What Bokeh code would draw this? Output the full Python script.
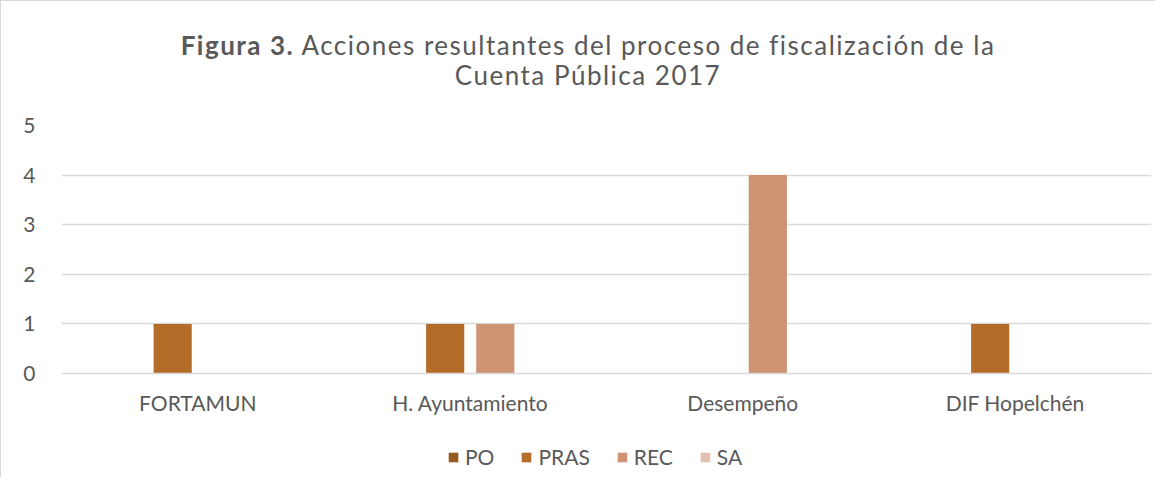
from bokeh.plotting import figure
from bokeh.models import ColumnDataSource, Legend, LegendItem, FactorRange, Range1d, Div
from bokeh.layouts import column
from bokeh.transform import dodge
from bokeh.embed import file_html
from bokeh.resources import INLINE

categories = ["FORTAMUN", "H. Ayuntamiento", "Desempeño", "DIF Hopelchén"]
series = ["PO", "PRAS", "REC", "SA"]
PO = [0, 0, 0, 0]
PRAS = [1, 1, 0, 1]
REC = [0, 1, 4, 0]
SA = [0, 0, 0, 0]
yticks = [0, 1, 2, 3, 4, 5]
colors = ["#955a1f", "#b46d29", "#cd9372", "#e2c1b2"]

FONT = "Lato"
TXT = "#595959"

src = ColumnDataSource(dict(cat=categories, PO=PO, PRAS=PRAS, REC=REC, SA=SA))

title = Div(text="<b>Figura 3.</b> Acciones resultantes del proceso de fiscalización de la<br>Cuenta Pública 2017",
            width=1154, height=100, margin=0,
            styles={"text-align": "center", "font-family": FONT, "font-size": "26px",
                    "letter-spacing": "1.5px", "color": TXT, "line-height": "30px",
                    "padding-top": "29px", "padding-left": "20px",
                    "box-sizing": "border-box", "width": "1154px"})

p = figure(width=1154, height=324, x_range=FactorRange(*categories, range_padding=0),
           y_range=Range1d(0, 5), output_backend="svg", toolbar_location=None,
           min_border_left=60, min_border_right=4, min_border_top=24, min_border_bottom=52,
           margin=0)
p.outline_line_color = None
p.background_fill_color = "white"

offsets = [-0.276, -0.092, 0.092, 0.276]
for s, c, o in zip(series, colors, offsets):
    p.vbar(x=dodge("cat", o, range=p.x_range), top=s, width=0.14, source=src,
           fill_color=c, line_color=None)

p.yaxis.ticker = yticks
p.yaxis.axis_line_color = None
p.yaxis.major_tick_line_color = None
p.yaxis.minor_tick_line_color = None
p.yaxis.major_label_standoff = 20
p.yaxis.major_label_text_font = FONT
p.yaxis.major_label_text_font_size = "21px"
p.yaxis.major_label_text_color = TXT

p.xaxis.axis_line_color = "#d9d9d9"
p.xaxis.axis_line_width = 1.5
p.xaxis.major_tick_line_color = None
p.xaxis.minor_tick_line_color = None
p.xaxis.major_label_standoff = 10
p.xaxis.major_label_text_font = FONT
p.xaxis.major_label_text_font_size = "21px"
p.xaxis.major_label_text_color = TXT

p.xgrid.grid_line_color = None
p.ygrid.grid_line_color = "#d9d9d9"
p.ygrid.grid_line_width = 1.5

# legend strip (its bars lie outside its visible range; only the legend shows)
lf = figure(width=1154, height=52, x_range=FactorRange(*categories), y_range=Range1d(10, 11),
            output_backend="svg", toolbar_location=None, min_border=0, margin=0,
            x_axis_location=None, y_axis_location=None)
lf.grid.visible = False
lf.outline_line_color = None
items = []
for s, c in zip(series, colors):
    r = lf.vbar(x="cat", top=s, width=0.1, source=src, fill_color=c, line_color=None)
    items.append(LegendItem(label=s, renderers=[r]))
legend = Legend(items=items, orientation="horizontal", location=(386, 8),
                border_line_color=None, label_text_font=FONT, label_text_font_size="21px",
                label_text_color=TXT, glyph_width=12, glyph_height=12, label_standoff=6,
                spacing=26, margin=0, padding=0, background_fill_alpha=0)
lf.add_layout(legend)

layout = column(title, p, lf, margin=0, spacing=0,
                styles={"border-left": "1px solid #d9d9d9", "border-top": "1px solid #d9d9d9"})

open("out.html", "w").write(file_html(layout, INLINE))
